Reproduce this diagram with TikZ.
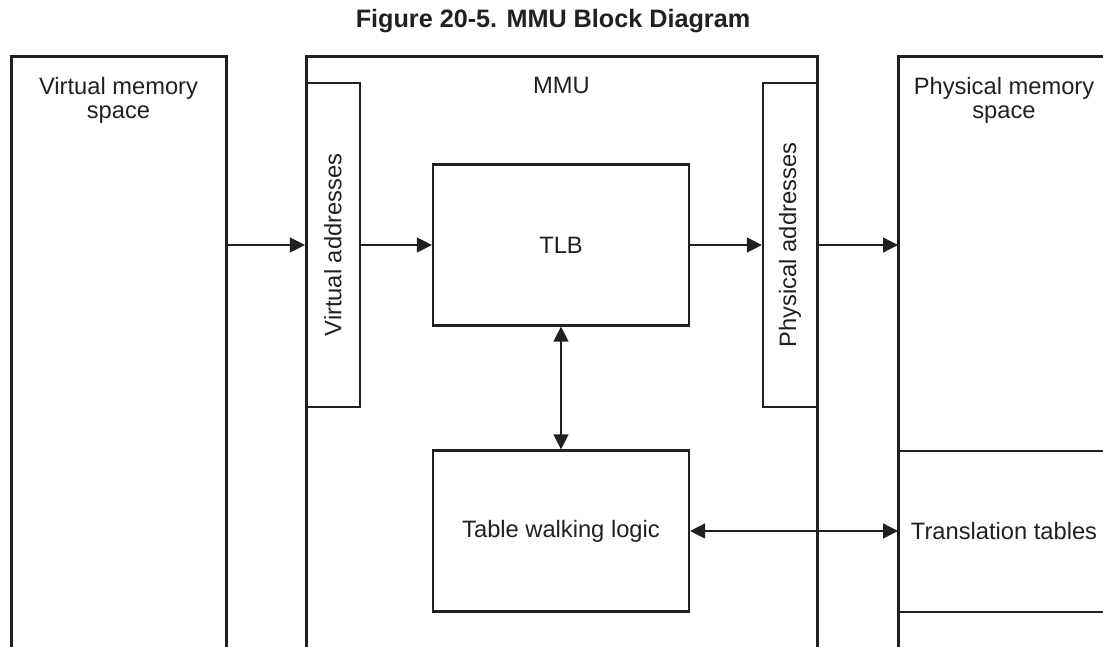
\documentclass[tikz,border=0pt]{standalone}
\usepackage{fontspec}
\setmainfont{Liberation Sans}
\usetikzlibrary{positioning, arrows.meta}
\definecolor{clrborder}{HTML}{231F20}
\definecolor{clrtext}{HTML}{231F20}

\begin{document}
\begin{tikzpicture}[
    x=0.5pt, y=-0.5pt,
    >={Triangle[length=7.5pt, width=7.5pt]},
    every node/.style={font=\fontsize{11.85pt}{12pt}\selectfont, text=clrtext},
    region/.style={inner sep=0, outer sep=0, minimum width=#1, minimum height=295.5pt},
    frame/.style={draw=clrborder, line width=1.5pt},
    block/.style={draw=clrborder, line width=1.1pt, inner sep=0,
                  minimum width=128pt, minimum height=80.5pt},
    addrbox/.style={draw=clrborder, line width=1.1pt, inner sep=0,
                    minimum width=27pt, minimum height=162pt},
    arrow/.style={->, color=clrborder, line width=0.65pt},
    dblarrow/.style={<->, color=clrborder, line width=0.65pt},
    heading/.style={inner sep=0, align=center},
]
\useasboundingbox (0,0) rectangle (1103,647);
\node[font=\fontsize{12.6pt}{14pt}\selectfont\bfseries, anchor=base] (n_title) at (553,28) {Figure 20-5. MMU Block Diagram};
% memory spaces and MMU
\node[region=107.5pt] (g_vmem) at (118.5,352.5) {};
\node[region=255.5pt] (g_mmu) at (561.5,352.5) {};
\node[region=106pt] (g_pmem) at (1004,352.5) {};
\node[heading, below=10pt of g_vmem.north] (n_vmem) {Virtual memory\\space};
\node[heading, below=10pt of g_mmu.north] (n_mmu) {MMU};
\node[heading, below=10pt of g_pmem.north] (n_pmem) {Physical memory\\space};
% blocks
\node[addrbox] (n_va) at (333,245) {};
\node[rotate=90] (n_va_text) at (n_va.center) {Virtual addresses};
\node[addrbox] (n_pa) at (790,245) {};
\node[rotate=90] (n_pa_text) at (n_pa.center) {Physical addresses};
\node[block] (n_tlb) at (561,245) {TLB};
\node[block] (n_twl) at (561,531) {Table walking logic};
\node[inner sep=0, outer sep=0, minimum width=106pt, minimum height=80.5pt] (n_ttab) at (1004,531.5) {Translation tables};
% frames
\draw[frame] (g_vmem.south west) |- (g_vmem.north east) -- (g_vmem.south east);
\draw[frame] (g_mmu.south west) |- (g_mmu.north east) -- (g_mmu.south east);
\draw[frame] (g_pmem.south west) |- (g_pmem.north east);
\draw[frame, line width=1.3pt] (n_ttab.north west) -- (n_ttab.north east) (n_ttab.south west) -- (n_ttab.south east);
% arrows
\draw[arrow] (g_vmem.east |- n_va.west) -- (n_va.west);
\draw[arrow] (n_va.east) -- (n_tlb.west);
\draw[arrow] (n_tlb.east) -- (n_pa.west);
\draw[arrow] (n_pa.east) -- (g_pmem.west |- n_pa.east);
\draw[dblarrow] (n_tlb.south) -- (n_twl.north);
\draw[dblarrow] (n_twl.east) -- (n_twl.east -| g_pmem.west);
\end{tikzpicture}
\end{document}
